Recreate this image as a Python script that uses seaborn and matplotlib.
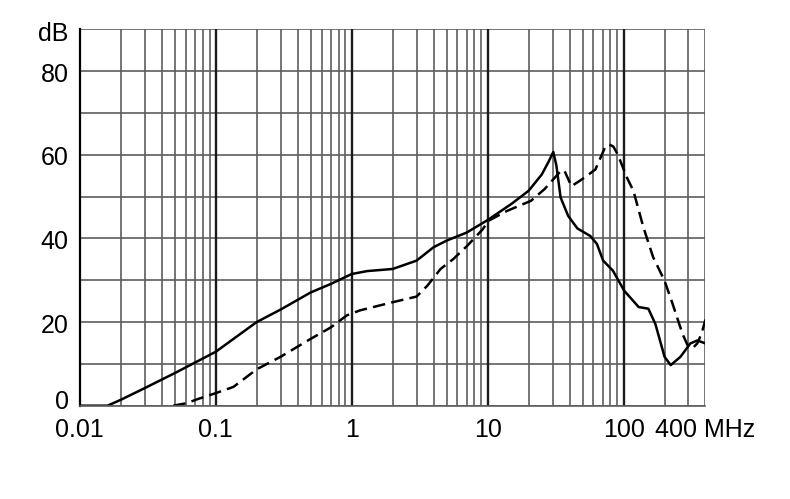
import matplotlib
matplotlib.use('Agg')
import matplotlib.pyplot as plt
import matplotlib.transforms as mtransforms
import seaborn as sns
import numpy as np
from matplotlib.ticker import LogLocator, FixedLocator, NullFormatter

# Attenuation curves (frequency in MHz, level in dB)
freq_solid = [0.01, 0.016, 0.02, 0.03, 0.05, 0.1, 0.2, 0.3, 0.5, 0.7, 1.0,
              1.3, 2.0, 3.0, 4.0, 5.0, 7.0, 10.0, 15.0, 20.0, 25.0, 28.0,
              30.4, 32.0, 34.4, 39.1, 45.7, 56.8, 63.6, 70.7, 83.4, 101, 129,
              152, 171, 200, 222, 262, 310, 348, 400]
db_solid = [0.0, 0.0, 1.4, 4.2, 7.8, 12.9, 20.0, 23.0, 27.1, 29.1, 31.5,
            32.2, 32.7, 34.7, 37.9, 39.5, 41.4, 44.4, 48.3, 51.4, 55.3, 58.3,
            60.7, 57.5, 49.8, 45.4, 42.4, 40.6, 38.7, 34.7, 32.3, 27.5, 23.6,
            23.2, 19.6, 11.7, 9.7, 11.7, 14.9, 15.6, 14.9]

freq_dashed = [0.0487, 0.061, 0.074, 0.1, 0.135, 0.2, 0.3, 0.5, 0.7, 0.92,
               1.15, 2.03, 3.0, 3.6, 4.5, 5.6, 7.1, 9.2, 10.1, 13.9, 20.8,
               26.2, 34.4, 36.6, 41.3, 49.2, 62, 67.6, 73, 78, 84, 90.5, 106,
               118, 140, 165, 200, 229, 271, 296, 321, 348, 374, 400]
db_dashed = [0.0, 0.6, 1.6, 3.0, 4.5, 8.7, 11.7, 16.0, 18.7, 21.6,
             22.8, 24.8, 26.1, 28.7, 32.7, 35.1, 38.3, 42.2, 44.2, 46.6, 49.0,
             51.8, 56.1, 56.3, 52.5, 54.1, 56.5, 59.3, 61.8, 62.5, 62.0, 60.1,
             54.5, 51.4, 42.6, 35.5, 29.9, 24.4, 17.2, 14.4, 13.7, 14.9, 17.2,
             20.6]

x_ticks = [0.01, 0.1, 1, 10, 100, 400]
x_labels = ['0.01', '0.1', '1', '10', '100', '400 MHz']
y_ticks = [0, 20, 40, 60, 80, 90]
y_labels = ['0', '20', '40', '60', '80', 'dB']
y_minor = [10, 30, 50, 70]

sns.set_style('white')
plt.rcParams['font.family'] = ['Liberation Sans', 'DejaVu Sans']

fig = plt.figure(figsize=(7.9, 4.99), dpi=100)
ax = fig.add_axes([0.101, 0.187, 0.792, 0.754])

sns.lineplot(x=freq_solid, y=db_solid, ax=ax, color='black', lw=1.8, sort=False)
sns.lineplot(x=freq_dashed, y=db_dashed, ax=ax, color='black', lw=1.8,
             sort=False, linestyle=(0, (5, 2.5)))

ax.set_xscale('log')
ax.set_xlim(0.01, 400)
ax.set_ylim(0, 90)

ax.xaxis.set_major_locator(FixedLocator(x_ticks))
ax.set_xticklabels(x_labels)
ax.xaxis.set_minor_locator(LogLocator(base=10, subs=np.arange(2, 10), numticks=20))
ax.xaxis.set_minor_formatter(NullFormatter())
ax.set_yticks(y_ticks)
ax.set_yticklabels(y_labels)
ax.set_yticks(y_minor, minor=True)

ax.tick_params(which='both', length=0, labelsize=18, colors='black')
ax.tick_params(axis='x', pad=9)
ax.tick_params(axis='y', pad=8)

# the "0" label sits a bit above the bottom line, the others slightly below theirs
for lab, dy in zip(ax.get_yticklabels(), [6, -1, -1, -1, -1, -2]):
    shift = mtransforms.ScaledTranslation(0, dy / 100, fig.dpi_scale_trans)
    lab.set_transform(lab.get_transform() + shift)

# grid: decades darker, the rest grey
ax.grid(False)
for f in [0.1, 1, 10, 100]:
    ax.axvline(f, color='#1a1a1a', lw=1.7, zorder=1)
ax.grid(which='minor', axis='x', color='#5e5e5e', lw=1.2, zorder=0)
ax.grid(which='both', axis='y', color='#5e5e5e', lw=1.2, zorder=0)
ax.axvline(400, color='#5e5e5e', lw=1.2, zorder=1)

for side in ['top', 'right']:
    ax.spines[side].set_visible(False)
ax.spines['left'].set_color('black')
ax.spines['left'].set_linewidth(1.6)
ax.spines['bottom'].set_color('#5e5e5e')
ax.spines['bottom'].set_linewidth(1.2)
ax.set_xlabel('')
ax.set_ylabel('')

fig.savefig('out.png', dpi=100)
